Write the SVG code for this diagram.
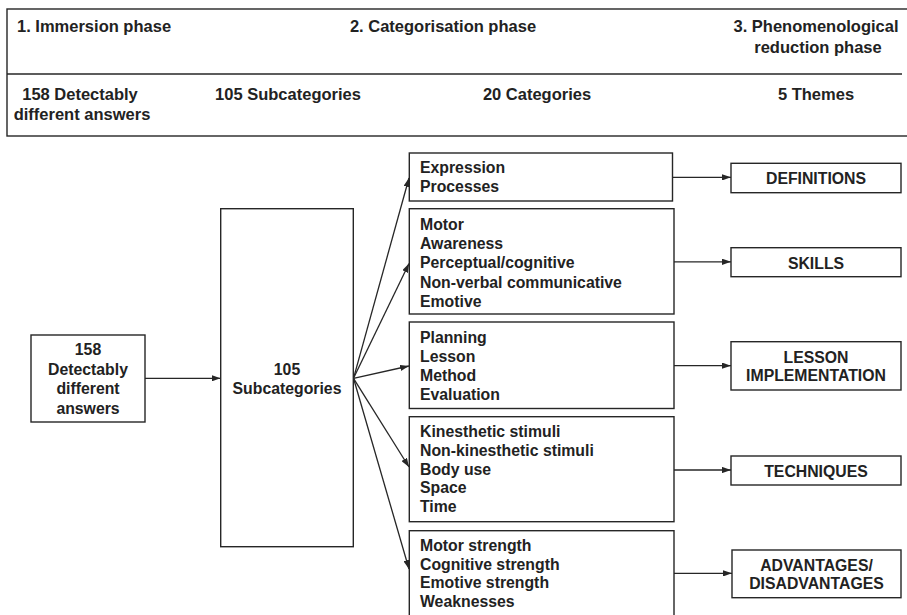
<svg xmlns="http://www.w3.org/2000/svg" width="907" height="615" viewBox="0 0 907 615">
<defs>
<style>
.b{fill:#fff;stroke:#262626;stroke-width:1.4}
.c{fill:none;stroke:#262626;stroke-width:1.3}
text{font-family:"Liberation Sans",Arial,sans-serif;font-weight:bold;fill:#222}
.h{font-size:16.5px}
.t{font-size:15.8px}
.m{text-anchor:middle}
</style>
<marker id="ah" viewBox="0 0 10 7" refX="10" refY="3.5" markerWidth="9" markerHeight="6.3" markerUnits="userSpaceOnUse" orient="auto">
<path d="M0,0 L10,3.5 L0,7 z" fill="#262626"/>
</marker>
</defs>
<rect width="907" height="615" fill="#fff"/>
<g id="header">
<rect class="b" x="7" y="9" width="910" height="127"/>
<line class="c" x1="7" y1="74" x2="902" y2="74"/>
<text class="h" x="17" y="32">1. Immersion phase</text>
<text class="h m" x="443" y="32">2. Categorisation phase</text>
<text class="h m" x="816" y="32">3. Phenomenological</text>
<text class="h m" x="818" y="52.5">reduction phase</text>
<text class="h m" x="80" y="100">158 Detectably</text>
<text class="h m" x="82" y="119.5">different answers</text>
<text class="h m" x="288" y="100">105 Subcategories</text>
<text class="h m" x="537" y="100">20 Categories</text>
<text class="h m" x="816" y="100">5 Themes</text>
</g>
<g id="connectors">
<line class="c" x1="145" y1="378.3" x2="220.5" y2="378.3" marker-end="url(#ah)"/>
<line class="c" x1="353.5" y1="378.3" x2="409" y2="178" marker-end="url(#ah)"/>
<line class="c" x1="353.5" y1="378.3" x2="409" y2="263.5" marker-end="url(#ah)"/>
<line class="c" x1="353.5" y1="378.3" x2="409" y2="366" marker-end="url(#ah)"/>
<line class="c" x1="353.5" y1="378.3" x2="409" y2="467" marker-end="url(#ah)"/>
<line class="c" x1="353.5" y1="378.3" x2="409" y2="569" marker-end="url(#ah)"/>
<line class="c" x1="672.5" y1="177.3" x2="731" y2="177.3" marker-end="url(#ah)"/>
<line class="c" x1="674" y1="261.8" x2="731" y2="261.8" marker-end="url(#ah)"/>
<line class="c" x1="674" y1="365.7" x2="731" y2="365.7" marker-end="url(#ah)"/>
<line class="c" x1="674" y1="470" x2="731" y2="470" marker-end="url(#ah)"/>
<line class="c" x1="674" y1="573.3" x2="732" y2="573.3" marker-end="url(#ah)"/>
</g>
<g id="answers">
<rect class="b" x="31" y="335" width="114" height="87"/>
<text class="t m" x="88" y="355">158</text>
<text class="t m" x="88" y="374.5">Detectably</text>
<text class="t m" x="88" y="394">different</text>
<text class="t m" x="88" y="413.5">answers</text>
</g>
<g id="subcategories">
<rect class="b" x="220.7" y="208.7" width="132.6" height="338"/>
<text class="t m" x="287" y="374.5">105</text>
<text class="t m" x="287" y="394">Subcategories</text>
</g>
<g id="cat-definitions">
<rect class="b" x="409.3" y="153" width="263.2" height="48"/>
<text class="t" x="420" y="173">Expression</text>
<text class="t" x="420" y="192">Processes</text>
</g>
<g id="cat-skills">
<rect class="b" x="409.3" y="208.7" width="264.7" height="105.3"/>
<text class="t" x="420" y="230">Motor</text>
<text class="t" x="420" y="249.2">Awareness</text>
<text class="t" x="420" y="268.4">Perceptual/cognitive</text>
<text class="t" x="420" y="287.6">Non-verbal communicative</text>
<text class="t" x="420" y="306.8">Emotive</text>
</g>
<g id="cat-lesson">
<rect class="b" x="409.3" y="322" width="264.7" height="86.5"/>
<text class="t" x="420" y="343.3">Planning</text>
<text class="t" x="420" y="362.3">Lesson</text>
<text class="t" x="420" y="381.3">Method</text>
<text class="t" x="420" y="400.3">Evaluation</text>
</g>
<g id="cat-techniques">
<rect class="b" x="409.3" y="416.7" width="264.7" height="105"/>
<text class="t" x="420" y="436.7">Kinesthetic stimuli</text>
<text class="t" x="420" y="455.6">Non-kinesthetic stimuli</text>
<text class="t" x="420" y="474.5">Body use</text>
<text class="t" x="420" y="493.4">Space</text>
<text class="t" x="420" y="512.3">Time</text>
</g>
<g id="cat-advantages">
<rect class="b" x="409.3" y="530.7" width="264.7" height="100"/>
<text class="t" x="420" y="550.7">Motor strength</text>
<text class="t" x="420" y="569.5">Cognitive strength</text>
<text class="t" x="420" y="588.3">Emotive strength</text>
<text class="t" x="420" y="607">Weaknesses</text>
</g>
<g id="theme-definitions">
<rect class="b" x="731" y="163.3" width="170" height="29.4"/>
<text class="t m" x="816" y="184.3">DEFINITIONS</text>
</g>
<g id="theme-skills">
<rect class="b" x="731" y="247.7" width="170" height="29"/>
<text class="t m" x="816" y="268.7">SKILLS</text>
</g>
<g id="theme-lesson">
<rect class="b" x="731" y="341.7" width="170" height="48.3"/>
<text class="t m" x="816" y="362.7">LESSON</text>
<text class="t m" x="816" y="381.3">IMPLEMENTATION</text>
</g>
<g id="theme-techniques">
<rect class="b" x="731" y="456" width="170" height="29"/>
<text class="t m" x="816" y="476.7">TECHNIQUES</text>
</g>
<g id="theme-advantages">
<rect class="b" x="732" y="550" width="169" height="47.7"/>
<text class="t m" x="816.5" y="570.7">ADVANTAGES/</text>
<text class="t m" x="816.5" y="589.3">DISADVANTAGES</text>
</g>
</svg>
